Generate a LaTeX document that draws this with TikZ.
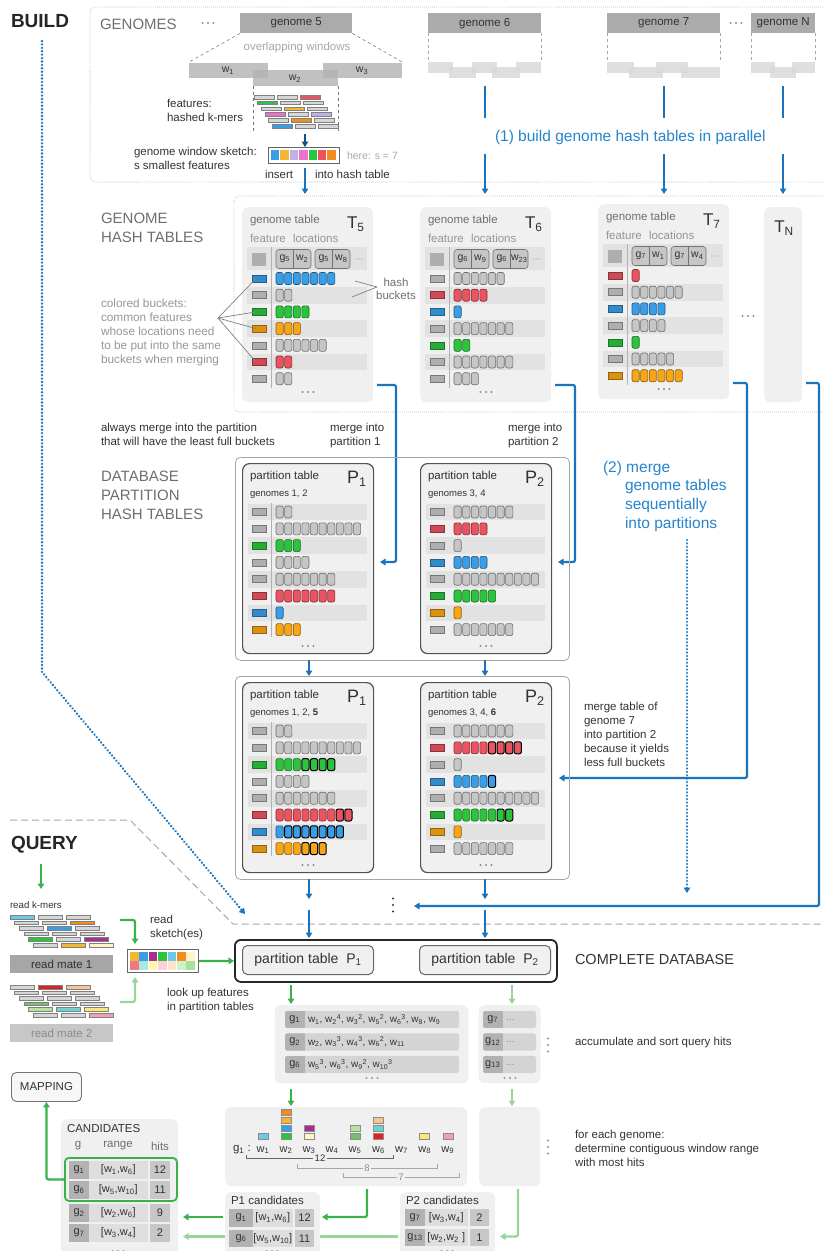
\documentclass[tikz,border=0pt]{standalone}
\usepackage{fontspec}
\setmainfont{Liberation Sans}
\usetikzlibrary{arrows.meta}

% palette
\definecolor{bl}{RGB}{24,116,190}
\definecolor{bltxt}{RGB}{36,132,204}
\definecolor{gr}{RGB}{58,178,74}
\definecolor{lgr}{RGB}{150,214,154}
\definecolor{tdark}{RGB}{50,50,50}
\definecolor{tmid}{RGB}{110,110,110}
\definecolor{tlight}{RGB}{150,150,150}
\definecolor{panel}{RGB}{240,240,240}
\definecolor{band}{RGB}{226,226,226}
\definecolor{kblue}{RGB}{58,158,230}
\definecolor{kgreen}{RGB}{44,196,60}
\definecolor{korange}{RGB}{247,166,22}
\definecolor{kred}{RGB}{234,84,96}
\definecolor{kgray}{RGB}{198,198,198}
\definecolor{kgl}{RGB}{214,214,214}
\definecolor{cyel}{RGB}{245,183,48}
\definecolor{clav}{RGB}{192,176,232}
\definecolor{cpink}{RGB}{240,112,208}
\definecolor{cora}{RGB}{242,140,32}
\definecolor{cpur}{RGB}{168,48,140}
\definecolor{cltb}{RGB}{112,200,232}
\definecolor{ccream}{RGB}{255,243,200}
\definecolor{cred2}{RGB}{226,32,32}
\definecolor{cpeach}{RGB}{248,196,150}
\definecolor{cgr2}{RGB}{112,196,104}
\definecolor{cgr3}{RGB}{184,226,160}
\definecolor{cteal}{RGB}{110,210,206}
\definecolor{cyel2}{RGB}{248,232,120}
\definecolor{cpink2}{RGB}{240,160,176}
\definecolor{mpr}{RGB}{240,120,128}
\definecolor{mteal}{RGB}{168,232,224}
\definecolor{myel}{RGB}{255,248,176}
\definecolor{mpink}{RGB}{255,208,216}
\definecolor{mpeach}{RGB}{255,228,200}
\definecolor{mgr}{RGB}{208,240,200}
\definecolor{mgr2}{RGB}{168,224,160}

\newcommand\fsz[2]{\fontsize{#1}{#2}\selectfont}
\newcommand\wsup[2]{w\textsubscript{#1}\textsuperscript{#2}}
\newcommand\trdots[3][black!45]{\foreach \dd in {-5.5,0,5.5}{\fill[#1] ({#2+\dd},#3) circle (1.1);}}
\newcommand\vtrdots[3][black!45]{\foreach \dd in {-6.5,0,6.5}{\fill[#1] (#2,{#3+\dd}) circle (1.2);}}

% one hash-table row: feature box, #4 buckets, then #5 freshly merged buckets
\newcommand\brow[5]{%
  \filldraw[fill=#3!88!black, draw=#3!60!black, line width=0.5pt] (#1,{#2-3.5}) rectangle ++(14,7);
  \ifnum#4>0 \foreach \k in {1,...,#4}{\filldraw[bkt, fill=#3, draw=#3!55!black] ({#1+24+(\k-1)*8.6},{#2-6}) rectangle ++(7.2,12);}\fi
  \ifnum#5>0 \foreach \k in {1,...,#5}{\filldraw[bkt, fill=#3, draw=black, line width=1pt] ({#1+24+(#4+\k-1)*8.6},{#2-6}) rectangle ++(7.2,12);}\fi
}

% location entry (genome | window)
\newcommand\locbox[4]{%
  \filldraw[fill=kgray, draw=black!55, line width=0.6pt, rounded corners=3pt] (#1,#2) rectangle ++(35,19);
  \draw[black!55, line width=0.6pt] ({#1+17.5},#2) -- ++(0,19);
  \node[cell, font=\fsz{10.5}{12}] at ({#1+8.75},{#2+9}) {g\textsubscript{#3}};
  \node[cell, font=\fsz{10.5}{12}] at ({#1+26.25},{#2+9}) {w\textsubscript{#4}};
}

% genome hash table frame
\newcommand\gframe[5]{%
  \node[panelbox, minimum width=131, minimum height=195] (#1) at (242,207) {};
  \node[lw, text=tmid] (#1-title) at (250,221) {genome table};
  \node[lw, font=\fsz{17}{17}] (#1-name) at (347,224) {T\textsubscript{#2}};
  \node[lw, text=tlight] (#1-feat) at (250,238) {feature};
  \node[lw, text=tlight] (#1-loc) at (293,238) {locations};
  \fill[band] (247,247) rectangle (367,270);
  \fill[kgray!88!black] (252,253) rectangle (266,266);
  \locbox{276}{249.5}{#3}{#4}
  \locbox{315}{249.5}{#3}{#5}
  \foreach \dd in {-3,0,3}{\fill[black!40] ({359+\dd},259) circle (0.6);}
  \foreach \yy in {295.2,328.6,362}{\fill[band] (247,{\yy-8.3}) rectangle (367,{\yy+8.3});}
  \draw[black!30, line width=0.7pt] (271,247) -- (271,388);
  \trdots{308}{392}
}

% partition table frame
\newcommand\pframe[3]{%
  \node[pbox, minimum width=131, minimum height=190] (#1) at (242,463) {};
  \node[lw] (#1-title) at (250,477) {partition table};
  \node[lw, font=\fsz{18}{18}] (#1-name) at (347,479) {P\textsubscript{#2}};
  \node[lw, font=\fsz{9.5}{11}] (#1-gen) at (250,494) {genomes #3};
  \foreach \yy in {512,545.6,579.2,612.8}{\fill[band] (248,{\yy-8.3}) rectangle (367,{\yy+8.3});}
  \trdots{308}{646}
}

% query-hit row
\newcommand\hrow[5]{%
  \fill[black!17, rounded corners=2.5pt] (#1,{#3-8.7}) rectangle (#2,{#3+8.7});
  \begin{scope}
    \clip[rounded corners=2.5pt] (#1,{#3-8.7}) rectangle (#2,{#3+8.7});
    \fill[black!30] (#1,{#3-8.7}) rectangle ({#1+19.5},{#3+8.7});
  \end{scope}
  \node[cell] at ({#1+9.75},#3) {g\textsubscript{#4}};
  \node[lw, font=\fsz{10}{12}] at ({#1+23},#3) {#5};
}

% candidate row: g cell, range cell, hits cell
\newcommand\crow[8]{%
  \fill[black!30] (#1,{#5-8.7}) rectangle (#2,{#5+8.7});
  \fill[black!13] (#2,{#5-8.7}) rectangle ({#3-2.5},{#5+8.7});
  \fill[black!22] (#3,{#5-8.7}) rectangle (#4,{#5+8.7});
  \node[cell] at ({(#1+#2)/2},#5) {g\textsubscript{#6}};
  \node[cell] at ({(#2+#3)/2-1.2},#5) {#7};
  \node[cell] at ({(#3+#4)/2},#5) {#8};
}

\begin{document}
\begin{tikzpicture}[x=1pt,y=-1pt,
  lbl/.style={inner sep=0pt, outer sep=0pt, text=tdark, font=\fsz{11.5}{14}},
  lw/.style={lbl, anchor=west, align=left},
  head/.style={lw, text=tmid, font=\fsz{15}{19}},
  note/.style={lw, text=tlight, font=\fsz{11.8}{13.8}},
  bluetxt/.style={lw, text=bltxt, font=\fsz{15.5}{18.6}},
  cell/.style={lbl, font=\fsz{11}{12}},
  tipA/.style={-{Triangle[length=5.5pt,width=6.5pt]}},
  bluearr/.style={draw=bl, line width=2.2pt, tipA},
  blueline/.style={draw=bl, line width=2.2pt},
  grarr/.style={draw=gr, line width=2.2pt, tipA},
  lgrarr/.style={draw=lgr, line width=2.2pt, tipA},
  bkt/.style={rounded corners=2pt, line width=0.6pt},
  kmer/.style={draw=black!50, line width=0.5pt},
  panelbox/.style={fill=panel, rounded corners=6pt, inner sep=0pt, anchor=north west},
  pbox/.style={panelbox, draw=black!68, line width=1.2pt, rounded corners=7pt},
  secbox/.style={draw=black!35, line width=0.8pt, rounded corners=5pt, inner sep=0pt, anchor=north west},
  gbox/.style={fill=black!33, inner sep=0pt, anchor=north west, font=\fsz{11.5}{14}, text=tdark},
  win/.style={fill=black!30, fill opacity=0.8},
  lwin/.style={fill=black!15, fill opacity=0.85},
  dotbox/.style={black!35, line width=0.9pt, dash pattern=on 0.01pt off 2pt, line cap=round, rounded corners=6pt},
  bdot/.style={bl, line width=2.6pt, line cap=round, dash pattern=on 0.01pt off 3.4pt, tipA}
]
\useasboundingbox (0,0) rectangle (823,1251);
\begin{scope}
\clip (0,0) rectangle (823,1251);

% ================= BUILD =================
\node[lw, font=\fsz{19}{22}\bfseries, text=black!85] (build) at (11,21) {BUILD};
\draw[dotbox] (90,7) rectangle (840,182);
\draw[dotbox] (234,196) rectangle (840,412);

\node[head] (genomes) at (100,24) {GENOMES};
\trdots{208}{23}
\node[gbox, minimum width=112, minimum height=20] (g5) at (240,13) {genome 5};
\node[gbox, minimum width=113, minimum height=20] (g6) at (428,13) {genome 6};
\node[gbox, minimum width=113, minimum height=20] (g7) at (607,13) {genome 7};
\trdots{736}{23}
\node[gbox, minimum width=64, minimum height=20] (gN) at (751,13) {genome N};

% genome 5 split into overlapping windows
\draw[black!45, dashed, line width=0.7pt] (g5.south west) -- (189,62);
\draw[black!45, dashed, line width=0.7pt] (g5.south east) -- (402,62);
\node[lbl, text=black!35] (ovl) at (297,48) {overlapping windows};
\fill[win] (189,63) rectangle (268,78);
\fill[win] (323,63) rectangle (402,78);
\fill[win] (253,70) rectangle (338,86);
\node[cell, font=\fsz{10.5}{12}] (w1l) at (228,71) {w\textsubscript{1}};
\node[cell, font=\fsz{10.5}{12}] (w2l) at (295,79) {w\textsubscript{2}};
\node[cell, font=\fsz{10.5}{12}] (w3l) at (362,71) {w\textsubscript{3}};
\draw[black!55, dashed, line width=0.7pt] (253,86) -- (253,132);
\draw[black!55, dashed, line width=0.7pt] (338,86) -- (338,132);

% hashed k-mers of window 2
\foreach \r/\ca/\cb/\cc in {0/kgl/kgl/kred,1/kgreen/kgl/kgl,2/kgl/cyel/kgl,3/cpink/kgl/clav,4/kgl/cora/kgl,5/kblue/kgl/kgl}{
  \filldraw[kmer, fill=\ca] ({254+3.6*\r},{97+5.8*\r-1.8}) rectangle ++(20,3.6);
  \filldraw[kmer, fill=\cb] ({277+3.6*\r},{97+5.8*\r-1.8}) rectangle ++(20,3.6);
  \filldraw[kmer, fill=\cc] ({300+3.6*\r},{97+5.8*\r-1.8}) rectangle ++(20,3.6);
}
\node[lw] (feat) at (167,110) {features:\\hashed k-mers};

% window sketch
\node[draw=black!60, fill=white, line width=0.9pt, minimum width=71, minimum height=16, inner sep=0pt, anchor=north west] (sk) at (268,147) {};
\foreach \c [count=\i from 0] in {kblue,cyel,clav,cpink,kgreen,kred,cora}{\fill[\c] ({271+9.4*\i},150) rectangle ++(8.4,10);}
\coordinate (kbot) at (305,134);
\draw[bluearr, draw=bl!70!black, line width=1.8pt] (kbot) -- (kbot |- sk.north);
\node[lw] (sktxt) at (134,158) {genome window sketch:\\s smallest features};
\node[lw, text=black!35, font=\fsz{10.5}{12}] (here) at (347,156) {here: s = 7};
\node[lw] (insert) at (265,174) {insert};
\node[lw] (intoh) at (315,174) {into hash table};
\coordinate (ins) at (305,168);
\coordinate (t5in) at (305,194);
\draw[bluearr] (ins) -- (t5in);

% other genomes
\foreach \x in {428,541}{\draw[black!35, dashed, line width=0.6pt] (\x,33) -- (\x,62);}
\fill[lwin] (428,62) rectangle (453,73); \fill[lwin] (472,62) rectangle (497,73); \fill[lwin] (516,62) rectangle (541,73);
\fill[lwin] (449,67) rectangle (476,78); \fill[lwin] (492,67) rectangle (520,78);
\foreach \x in {607,720}{\draw[black!35, dashed, line width=0.6pt] (\x,33) -- (\x,62);}
\fill[lwin] (607,62) rectangle (634,73); \fill[lwin] (656,62) rectangle (688,73);
\fill[lwin] (629,67) rectangle (663,78); \fill[lwin] (681,67) rectangle (720,78);
\foreach \x in {751,815}{\draw[black!35, dashed, line width=0.6pt] (\x,33) -- (\x,62);}
\fill[lwin] (751,62) rectangle (775,73); \fill[lwin] (792,62) rectangle (815,73);
\fill[lwin] (770,67) rectangle (796,78);

\foreach \n/\x in {6/485,7/664,N/783}{
  \coordinate (ga\n) at (\x,86); \coordinate (gb\n) at (\x,118);
  \coordinate (gc\n) at (\x,154); \coordinate (gd\n) at (\x,194);
  \draw[blueline] (ga\n) -- (gb\n);
  \draw[bluearr] (gc\n) -- (gd\n);
}
\node[bluetxt] (step1) at (495,137) {(1) build genome hash tables in parallel};

% ================= GENOME HASH TABLES =================
\node[head] (ghtxt) at (101,228) {GENOME\\HASH TABLES};

\gframe{T5}{5}{5}{2}{8}
\brow{252}{278.5}{kblue}{7}{0}
\brow{252}{295.2}{kgray}{2}{0}
\brow{252}{311.9}{kgreen}{4}{0}
\brow{252}{328.6}{korange}{3}{0}
\brow{252}{345.3}{kgray}{6}{0}
\brow{252}{362}{kred}{2}{0}
\brow{252}{378.7}{kgray}{2}{0}

\begin{scope}[shift={(178,0)}]
\gframe{T6}{6}{6}{9}{23}
\brow{252}{278.5}{kgray}{6}{0}
\brow{252}{295.2}{kred}{4}{0}
\brow{252}{311.9}{kblue}{1}{0}
\brow{252}{328.6}{kgray}{7}{0}
\brow{252}{345.3}{kgreen}{2}{0}
\brow{252}{362}{kgray}{7}{0}
\brow{252}{378.7}{kgray}{3}{0}
\end{scope}

\begin{scope}[shift={(356,-3)}]
\gframe{T7}{7}{7}{1}{4}
\brow{252}{278.5}{kred}{1}{0}
\brow{252}{295.2}{kgray}{6}{0}
\brow{252}{311.9}{kblue}{4}{0}
\brow{252}{328.6}{kgray}{4}{0}
\brow{252}{345.3}{kgreen}{1}{0}
\brow{252}{362}{kgray}{5}{0}
\brow{252}{378.7}{korange}{6}{0}
\end{scope}

\trdots{748}{316}
\node[panelbox, minimum width=38, minimum height=195] (TN) at (764,207) {};
\node[lbl, font=\fsz{17}{17}] (TNname) at (784,228) {T\textsubscript{N}};

% annotations of the first table
\node[lbl, text=tmid, align=center, font=\fsz{11.5}{13}] (hb) at (396,288.5) {hash\\buckets};
\coordinate (hbl) at (377,287);
\draw[black!50, line width=0.7pt] (hbl) -- (355,281);
\draw[black!50, line width=0.7pt] (hbl) -- (352,297);
\node[note] (colb) at (101,332.5) {colored buckets:\\common features\\whose locations need\\to be put into the same\\buckets when merging};
\coordinate (cbp) at (218,318);
\foreach \yy in {278.5,311.9,328.6,362}{\draw[black!50, line width=0.7pt] (cbp) -- (256,\yy);}

% merging into partitions
\coordinate (t5o) at (377,385); \coordinate (p1in) at (380,562);
\draw[bluearr, rounded corners=2pt] (t5o) -- (396,385) -- (396,562) -- (p1in);
\coordinate (t6o) at (555,385); \coordinate (p2in) at (558,562);
\draw[bluearr, rounded corners=2pt] (t6o) -- (575,385) -- (575,562) -- (p2in);
\coordinate (t7o) at (733,383); \coordinate (p2bin) at (559,778);
\draw[bluearr, rounded corners=2pt] (t7o) -- (747,383) -- (747,778) -- (p2bin);
\coordinate (tno) at (806,383); \coordinate (dbin) at (414,906);
\draw[bluearr, rounded corners=2pt] (tno) -- (819,383) -- (819,906) -- (dbin);

\node[lw] (always) at (101,434) {always merge into the partition\\that will have the least full buckets};
\node[lw] (mi1) at (330,436) {merge into\\partition 1};
\node[lw] (mi2) at (508,436) {merge into\\partition 2};
\node[head] (dbtxt) at (101,495.5) {DATABASE\\PARTITION\\HASH TABLES};

\node[bluetxt] (step2a) at (603,468) {(2) merge};
\node[bluetxt] (step2b) at (625,505.5) {genome tables\\sequentially\\into partitions};
\coordinate (dq1) at (687,540); \coordinate (dq2) at (687,893);
\draw[bdot] (dq1) -- (dq2);

% ================= DATABASE PARTITIONS =================
\node[secbox, minimum width=334, minimum height=203] (sec1) at (235,457) {};
\pframe{P1a}{1}{1, 2}
\draw[black!30, line width=0.7pt] (271,503) -- (271,637);
\brow{252}{512}{kgray}{2}{0}
\brow{252}{528.8}{kgray}{10}{0}
\brow{252}{545.6}{kgreen}{3}{0}
\brow{252}{562.4}{kgray}{4}{0}
\brow{252}{579.2}{kgray}{7}{0}
\brow{252}{596}{kred}{7}{0}
\brow{252}{612.8}{kblue}{1}{0}
\brow{252}{629.6}{korange}{3}{0}
\begin{scope}[shift={(178,0)}]
\pframe{P2a}{2}{3, 4}
\brow{252}{512}{kgray}{7}{0}
\brow{252}{528.8}{kred}{4}{0}
\brow{252}{545.6}{kgray}{1}{0}
\brow{252}{562.4}{kblue}{4}{0}
\brow{252}{579.2}{kgray}{10}{0}
\brow{252}{596}{kgreen}{5}{0}
\brow{252}{612.8}{korange}{1}{0}
\brow{252}{629.6}{kgray}{7}{0}
\end{scope}

\node[secbox, minimum width=334, minimum height=203] (sec2) at (235,676) {};
\begin{scope}[shift={(0,219)}]
\pframe{P1b}{1}{1, 2, \textbf{5}}
\draw[black!30, line width=0.7pt] (271,503) -- (271,637);
\brow{252}{512}{kgray}{2}{0}
\brow{252}{528.8}{kgray}{10}{0}
\brow{252}{545.6}{kgreen}{3}{4}
\brow{252}{562.4}{kgray}{4}{0}
\brow{252}{579.2}{kgray}{7}{0}
\brow{252}{596}{kred}{7}{2}
\brow{252}{612.8}{kblue}{1}{7}
\brow{252}{629.6}{korange}{3}{3}
\end{scope}
\begin{scope}[shift={(178,219)}]
\pframe{P2b}{2}{3, 4, \textbf{6}}
\brow{252}{512}{kgray}{7}{0}
\brow{252}{528.8}{kred}{4}{4}
\brow{252}{545.6}{kgray}{1}{0}
\brow{252}{562.4}{kblue}{4}{1}
\brow{252}{579.2}{kgray}{10}{0}
\brow{252}{596}{kgreen}{5}{2}
\brow{252}{612.8}{korange}{1}{0}
\brow{252}{629.6}{kgray}{7}{0}
\end{scope}

\coordinate (a1s) at (309,660); \coordinate (a1e) at (309,676);
\coordinate (a2s) at (485,660); \coordinate (a2e) at (485,676);
\draw[bluearr] (a1s) -- (a1e);
\draw[bluearr] (a2s) -- (a2e);
\node[lw] (m7) at (584,734) {merge table of\\genome 7\\into partition 2\\because it yields\\less full buckets};

\coordinate (b1s) at (309,879); \coordinate (b1e) at (309,899);
\coordinate (b2s) at (485,879); \coordinate (b2e) at (485,899);
\draw[bluearr] (b1s) -- (b1e);
\draw[bluearr] (b2s) -- (b2e);
\vtrdots[black!80]{393}{905}

% BUILD / QUERY separator and build path
\draw[black!35, line width=1pt, dash pattern=on 7pt off 4pt] (10,820) -- (130,820) -- (233,924) -- (823,924);
\coordinate (bs) at (42,41);
\coordinate (be) at (245,914);
\draw[bdot] (bs) -- (42,672) -- (be);

% ================= COMPLETE DATABASE =================
\node[draw=black!85, line width=1.8pt, rounded corners=6pt, minimum width=322, minimum height=42, anchor=north west, inner sep=0pt] (cdb) at (234,939) {};
\node[draw=black!60, fill=panel, line width=1pt, rounded corners=5pt, minimum width=131, minimum height=29, anchor=north west, inner sep=0pt, font=\fsz{14}{16}, text=tdark] (cp1) at (242,945) {partition table\ \ P\textsubscript{1}};
\node[draw=black!60, fill=panel, line width=1pt, rounded corners=5pt, minimum width=131, minimum height=29, anchor=north west, inner sep=0pt, font=\fsz{14}{16}, text=tdark] (cp2) at (419,945) {partition table\ \ P\textsubscript{2}};
\node[lw, font=\fsz{14.5}{17}] (cdbtxt) at (575,959) {COMPLETE DATABASE};
\coordinate (c1s) at (309,910); \coordinate (c1e) at (309,938);
\coordinate (c2s) at (485,910); \coordinate (c2e) at (485,938);
\draw[bluearr] (c1s) -- (c1e);
\draw[bluearr] (c2s) -- (c2e);

% ================= QUERY =================
\node[lw, font=\fsz{19}{22}\bfseries, text=black!85] (query) at (11,845) {QUERY};
\coordinate (q0) at (41,864); \coordinate (q1) at (41,889);
\draw[grarr] (q0) -- (q1);
\node[lw, font=\fsz{9.7}{11}] (rkm) at (10,905) {read k-mers};
\foreach \r/\ca/\cb/\cc in {0/cltb/kgl/kgl,1/kgl/kgl/cora,2/kgl/kblue/kgl,3/kgl/kgl/kgl,4/kgreen/kgl/cpur,5/kgl/cyel/ccream}{
  \filldraw[kmer, fill=\ca] ({10+4.6*\r},{917+5.6*\r-1.8}) rectangle ++(24,3.6);
  \filldraw[kmer, fill=\cb] ({38+4.6*\r},{917+5.6*\r-1.8}) rectangle ++(24,3.6);
  \filldraw[kmer, fill=\cc] ({66+4.6*\r},{917+5.6*\r-1.8}) rectangle ++(24,3.6);
}
\node[fill=black!35, minimum width=103, minimum height=18, inner sep=0pt, anchor=north west, font=\fsz{11.5}{14}, text=tdark] (rm1) at (10,955) {read mate 1};
\foreach \r/\ca/\cb/\cc in {0/kgl/cred2/cpeach,1/kgl/kgl/kgl,2/kgl/kgl/kgl,3/cgr2/kgl/kgl,4/cgr3/cteal/cyel2,5/kgl/kgl/cpink2}{
  \filldraw[kmer, fill=\ca] ({10+4.6*\r},{987+5.6*\r-1.8}) rectangle ++(24,3.6);
  \filldraw[kmer, fill=\cb] ({38+4.6*\r},{987+5.6*\r-1.8}) rectangle ++(24,3.6);
  \filldraw[kmer, fill=\cc] ({66+4.6*\r},{987+5.6*\r-1.8}) rectangle ++(24,3.6);
}
\node[fill=black!22, minimum width=103, minimum height=18, inner sep=0pt, anchor=north west, font=\fsz{11.5}{14}, text=black!45] (rm2) at (10,1024) {read mate 2};

% read sketch
\node[draw=black!60, fill=white, line width=0.9pt, minimum width=71, minimum height=23, inner sep=0pt, anchor=north west] (rs) at (127,949) {};
\foreach \c [count=\i from 0] in {cyel,kblue,cpur,kgreen,cltb,cora,ccream}{\fill[\c] ({130+9.4*\i},952) rectangle ++(8.6,8.6);}
\foreach \c [count=\i from 0] in {mpr,mteal,myel,mpink,mpeach,mgr,mgr2}{\fill[\c] ({130+9.4*\i},961.4) rectangle ++(8.6,8.6);}
\coordinate (k1o) at (120,920); \coordinate (rsin1) at (135,944);
\draw[grarr, rounded corners=2pt] (k1o) -- (135,920) -- (rsin1);
\coordinate (k2o) at (120,1002); \coordinate (rsin2) at (135,977);
\draw[lgrarr, rounded corners=2pt] (k2o) -- (135,1002) -- (rsin2);
\node[lw] (rstxt) at (150,927.5) {read\\sketch(es)};
\draw[grarr] (rs.east) -- (cdb.west);
\node[lw] (lookup) at (167,1001) {look up features\\in partition tables};

% query hits
\coordinate (h1s) at (291,985); \coordinate (h1e) at (291,1004);
\coordinate (h2s) at (512,985); \coordinate (h2e) at (512,1004);
\draw[grarr] (h1s) -- (h1e);
\draw[lgrarr] (h2s) -- (h2e);
\node[panelbox, minimum width=194, minimum height=78] (hits1) at (274.5,1005) {};
\node[panelbox, minimum width=62, minimum height=78] (hits2) at (478.5,1005) {};
\hrow{285}{459}{1019.5}{1}{w\textsubscript{1}, \wsup{2}{4}, \wsup{3}{2}, \wsup{5}{2}, \wsup{6}{3}, w\textsubscript{8}, w\textsubscript{9}}
\hrow{285}{459}{1042}{2}{w\textsubscript{2}, \wsup{3}{3}, \wsup{4}{3}, \wsup{6}{2}, w\textsubscript{11}}
\hrow{285}{459}{1064.5}{6}{\wsup{5}{3}, \wsup{6}{3}, \wsup{9}{2}, \wsup{10}{3}}
\hrow{483}{536}{1019.5}{7}{\textcolor{black!45}{...}}
\hrow{483}{536}{1042}{12}{\textcolor{black!45}{...}}
\hrow{483}{536}{1064.5}{13}{\textcolor{black!45}{...}}
\trdots[black!40]{372}{1078}
\trdots[black!40]{510}{1078}
\vtrdots{548}{1045}
\node[lw] (accum) at (575,1043) {accumulate and sort query hits};

% window ranges
\coordinate (r1s) at (291,1089); \coordinate (r1e) at (291,1106);
\coordinate (r2s) at (512,1089); \coordinate (r2e) at (512,1106);
\draw[grarr] (r1s) -- (r1e);
\draw[lgrarr] (r2s) -- (r2e);
\node[panelbox, minimum width=242, minimum height=79] (wr1) at (225,1107) {};
\node[panelbox, minimum width=61, minimum height=79] (wr2) at (479,1107) {};
\node[lw] (g1lab) at (233,1150) {g\textsubscript{1} :};
\foreach \xx [count=\i] in {263,286,309,332,355,378.5,401.6,424.7,447.8}{\node[cell] (wl\i) at (\xx,1150) {w\textsubscript{\i}};}
\foreach \xx/\yy/\c in {263/1136/cltb,286/1136/kgreen,286/1128/kblue,286/1120/cyel,286/1112/cora,309/1136/ccream,309/1128/cpur,355/1136/cgr2,355/1128/cgr3,378.5/1136/cred2,378.5/1128/cteal,378.5/1120/cpeach,424.7/1136/cyel2,447.8/1136/cpink2}{
  \filldraw[fill=\c, draw=black!45, line width=0.5pt] ({\xx-5},{\yy-3}) rectangle ++(10,6);}
\draw[black!60, line width=0.7pt] (246,1154.5) -- (246,1158.5) -- (393,1158.5) -- (393,1154.5);
\node[lbl, fill=panel, inner xsep=1.5pt, font=\fsz{9.5}{11}] (b12) at (320,1158.5) {12};
\draw[black!35, line width=0.7pt] (297,1164) -- (297,1168) -- (437,1168) -- (437,1164);
\node[lbl, fill=panel, inner xsep=1.5pt, text=black!45, font=\fsz{9.5}{11}] (b8) at (367,1168) {8};
\draw[black!35, line width=0.7pt] (343,1173) -- (343,1177) -- (459,1177) -- (459,1173);
\node[lbl, fill=panel, inner xsep=1.5pt, text=black!45, font=\fsz{9.5}{11}] (b7) at (401,1177) {7};
\vtrdots{548}{1147}
\node[lw] (foreach) at (575,1148) {for each genome:\\determine contiguous window range\\with most hits};

% candidates
\coordinate (p2cl) at (398,1236.5); \coordinate (cdr2) at (183,1236.5);
\draw[lgrarr] (p2cl) -- (cdr2);
\coordinate (p1cl) at (223,1217); \coordinate (cdr1) at (183,1217);
\draw[grarr] (p1cl) -- (cdr1);

\node[panelbox, minimum width=95, minimum height=70] (p1c) at (225,1192) {};
\node[lw] (p1ct) at (231,1200) {P1 candidates};
\crow{229}{253}{295}{314}{1218}{1}{[w\textsubscript{1},w\textsubscript{6}]}{12}
\crow{229}{253}{295}{314}{1238.5}{6}{[w\textsubscript{5},w\textsubscript{10}]}{11}
\trdots[black!40]{272}{1251}

\node[panelbox, minimum width=95, minimum height=70] (p2c) at (400,1192) {};
\node[lw] (p2ct) at (406,1200) {P2 candidates};
\begin{scope}[every node/.append style={text=black!50}]
\crow{405}{425}{470}{489}{1217.5}{7}{[w\textsubscript{3},w\textsubscript{4}]}{2}
\crow{405}{425}{470}{489}{1237.5}{13}{[w\textsubscript{2},w\textsubscript{2} ]}{1}
\end{scope}
\trdots[black!40]{447}{1251}

\coordinate (wr1o) at (367,1189); \coordinate (p1cin) at (322,1217);
\draw[grarr, rounded corners=2pt] (wr1o) -- (367,1217) -- (p1cin);
\coordinate (wr2o) at (518,1189); \coordinate (p2cin) at (500,1236.5);
\draw[lgrarr, rounded corners=2pt] (wr2o) -- (518,1236.5) -- (p2cin);

\node[panelbox, minimum width=117, minimum height=140] (cand) at (61,1119) {};
\node[lw] (candt) at (67,1129) {CANDIDATES};
\node[lbl, text=tmid] (hg) at (78,1146) {g};
\node[lbl, text=tmid] (hr) at (118,1146) {range};
\node[lbl, text=tmid] (hh) at (160,1146) {hits};
\crow{69}{89}{150}{170}{1170}{1}{[w\textsubscript{1},w\textsubscript{6}]}{12}
\crow{69}{89}{150}{170}{1190}{6}{[w\textsubscript{5},w\textsubscript{10}]}{11}
\crow{69}{89}{150}{170}{1213}{2}{[w\textsubscript{2},w\textsubscript{6}]}{9}
\crow{69}{89}{150}{170}{1233}{7}{[w\textsubscript{3},w\textsubscript{4}]}{2}
\trdots[black!40]{118}{1251}
\node[draw=gr, line width=1.8pt, rounded corners=4pt, minimum width=112, minimum height=43, inner sep=0pt, anchor=north west] (best) at (64,1157) {};

\node[draw=black!55, fill=black!3, line width=0.9pt, rounded corners=5pt, minimum width=70, minimum height=29, inner sep=0pt, anchor=north west, font=\fsz{11.5}{14}, text=tdark] (map) at (11,1072) {MAPPING};
\draw[grarr, rounded corners=2pt] (best.west) -| (map.south);

\end{scope}
\end{tikzpicture}
\end{document}
